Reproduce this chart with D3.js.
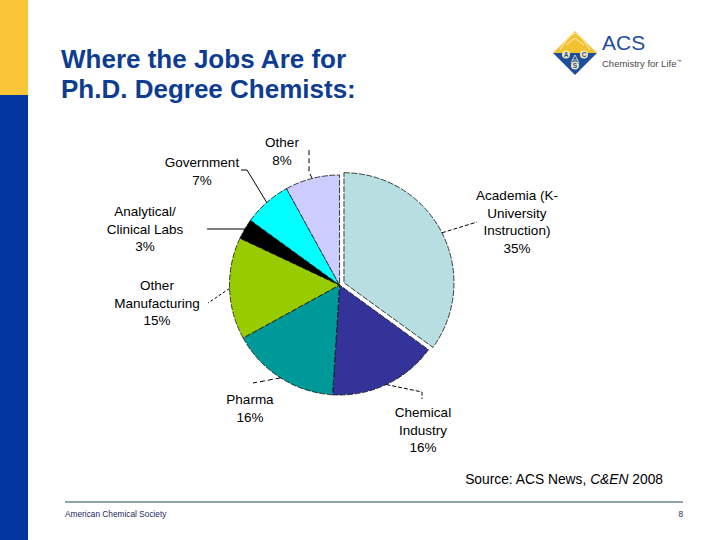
<!DOCTYPE html>
<html>
<head>
<meta charset="utf-8">
<script src="https://cdn.jsdelivr.net/npm/d3@7"></script>
<style>
html,body{margin:0;padding:0;background:#fff;}
svg{display:block;}
text{font-family:"Liberation Sans",Arial,sans-serif;}
</style>
</head>
<body>
<svg id="c" width="720" height="540"></svg>
<script>
// ---- data ----
const categories = ["Academia (K-University Instruction)", "Chemical Industry", "Pharma", "Other Manufacturing", "Analytical/ Clinical Labs", "Government", "Other"];
const labelLines = [["Academia (K-","University","Instruction)"],["Chemical","Industry"],["Pharma"],["Other","Manufacturing"],["Analytical/","Clinical Labs"],["Government"],["Other"]];
const values = [35, 16, 16, 15, 3, 7, 8];
const colors = ["#B7DFE1", "#333399", "#009999", "#99CC00", "#000000", "#00FFFF", "#CCCCFF"];
const titleLines = ["Where the Jobs Are for", "Ph.D. Degree Chemists:"];

// ---- layout (positions of labels and leader bends) ----
const cx = 339.5, cy = 285, R = 110, explode = 5;
const labelPos = [[517,200],[423,417],[250,404],[157,290],[145,216],[202,167],[282,147]];
const leaderPts = [
  [[477,222]],
  [[422,392],[422,399]],
  [[253,383]],
  [[208,303]],
  [[207,229]],
  [[247,170],[241,170]],
  [[309,172],[309,150]]
];
const leaderDash = ["4,2","4,2","5,3","3,2",null,null,"5,3"];

const svg = d3.select("#c");

// left band
svg.append("rect").attr("x",0).attr("y",0).attr("width",28).attr("height",95).attr("fill","#FAC536");
svg.append("rect").attr("x",0).attr("y",95).attr("width",28).attr("height",445).attr("fill","#0436A0");

// title
svg.append("g").selectAll("text").data(titleLines).join("text")
  .attr("x",61).attr("y",(d,i)=>68+i*30)
  .attr("font-size",26).attr("font-weight","bold").attr("fill","#0D3C91")
  .text(d=>d);

// ACS logo
const logo = svg.append("g");
logo.append("path").attr("d","M553,53 L575,31 L597,53 Z").attr("fill","#F3C232");
logo.append("path").attr("d","M560,50 Q568,36 575,33 Q582,36 590,50").attr("fill","none").attr("stroke","#FBE7A0").attr("stroke-width",1.2);
logo.append("path").attr("d","M566,45 L575,38 L584,45").attr("fill","none").attr("stroke","#FDF1C4").attr("stroke-width",1);
logo.append("path").attr("d","M553,53 L597,53 L575,75 Z").attr("fill","#1F4E9E");
[[566,57,"A"],[584,57,"C"],[575,68,"S"]].forEach(d=>{
  logo.append("circle").attr("cx",d[0]).attr("cy",d[1]-2.5).attr("r",4).attr("fill","#F3E7B0");
  logo.append("text").attr("x",d[0]).attr("y",d[1]).attr("text-anchor","middle").attr("font-size",6.5).attr("font-weight","bold").attr("fill","#1F4E9E").text(d[2]);
});
logo.append("path").attr("d","M575,55 L571,63 M575,55 L579,63 M572,60 L578,60").attr("stroke","#F3E7B0").attr("stroke-width",0.8).attr("fill","none");
logo.append("text").attr("x",602).attr("y",50).attr("font-size",21).attr("fill","#1F4E9E").text("ACS");
const tag = logo.append("text").attr("x",602).attr("y",67).attr("font-size",9.5).attr("fill","#4A4A4A");
tag.append("tspan").text("Chemistry for Life");
tag.append("tspan").attr("font-size",5).attr("dy",-4).text("\u2122");

// pie
const pie = d3.pie().sort(null).startAngle(0).endAngle(2*Math.PI).value(d=>d);
const arcs = pie(values);
const arc = d3.arc().innerRadius(0).outerRadius(R);
const edgeArc = d3.arc().innerRadius(R).outerRadius(R);
function offset(a, i){
  if(i!==0) return [0,0];
  const m = (a.startAngle+a.endAngle)/2;
  return [explode*Math.sin(m), -explode*Math.cos(m)];
}
const g = svg.append("g").attr("transform",`translate(${cx},${cy})`);
g.selectAll("path.slice").data(arcs).join("path").attr("class","slice")
  .attr("d",arc)
  .attr("transform",(d,i)=>{const o=offset(d,i);return `translate(${o[0]},${o[1]})`;})
  .attr("fill",(d,i)=>colors[i])
  .attr("stroke","#111").attr("stroke-width",0.8).attr("stroke-dasharray","6,1.5");

// leaders
arcs.forEach((a,i)=>{
  const o = offset(a,i);
  const c = edgeArc.centroid(a);
  const pts = [[cx+c[0]+o[0], cy+c[1]+o[1]]].concat(leaderPts[i]);
  const p = svg.append("path").attr("d", d3.line()(pts))
    .attr("fill","none").attr("stroke","#000").attr("stroke-width",1);
  if(leaderDash[i]) p.attr("stroke-dasharray",leaderDash[i]);
});

// labels
arcs.forEach((a,i)=>{
  const lines = labelLines[i].concat([values[i]+"%"]);
  const t = svg.append("text").attr("text-anchor","middle").attr("font-size",13.5).attr("fill","#000");
  lines.forEach((l,j)=>{
    t.append("tspan").attr("x",labelPos[i][0]).attr("y",labelPos[i][1]+j*17.5).text(l);
  });
});

// source
const src = svg.append("text").attr("x",663).attr("y",484).attr("text-anchor","end").attr("font-size",13.8).attr("fill","#000");
src.append("tspan").text("Source: ACS News, ");
src.append("tspan").attr("font-style","italic").text("C&EN");
src.append("tspan").text(" 2008");

// footer
svg.append("line").attr("x1",65).attr("x2",683).attr("y1",502).attr("y2",502).attr("stroke","#1E4D5E").attr("stroke-width",1.2);
svg.append("text").attr("x",65).attr("y",517).attr("font-size",8.3).attr("fill","#1A2A5A").text("American Chemical Society");
svg.append("text").attr("x",683).attr("y",517).attr("text-anchor","end").attr("font-size",8.3).attr("fill","#1A2A5A").text("8");
</script>
</body>
</html>
